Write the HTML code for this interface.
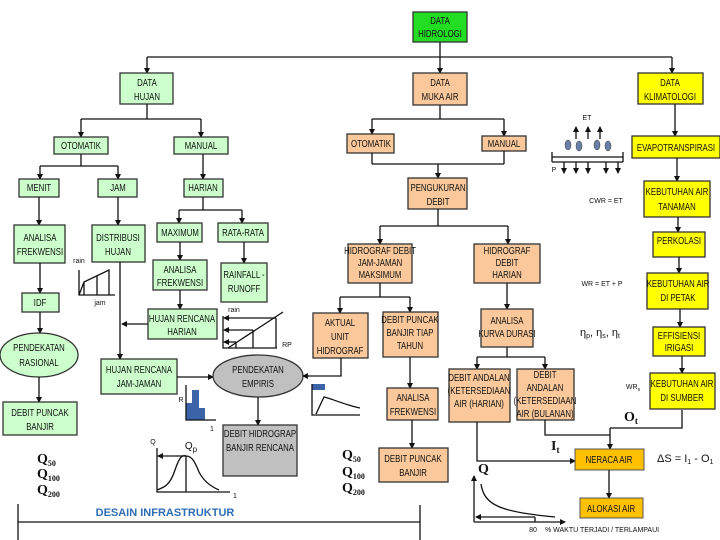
<!DOCTYPE html>
<html><head><meta charset="utf-8"><style>
html,body{margin:0;padding:0;background:#fff;}
svg{display:block;}
text{font-family:"Liberation Sans Narrow","Liberation Sans",sans-serif;font-size:10px;fill:#111;text-anchor:middle;transform-box:fill-box;transform-origin:center;transform:scaleX(0.78);}
.s{font-size:7px;font-family:"Liberation Sans",sans-serif;transform:none;}
.q{font-family:"Liberation Serif",serif;font-size:14px;font-weight:bold;text-anchor:start;transform:none;}
.nx{transform:none;}
.ln{stroke:#111;stroke-width:1.3;fill:none;}
.g{fill:#ccffcc;stroke:#333;stroke-width:1.3;}
.o{fill:#fac89a;stroke:#333;stroke-width:1.3;}
.y{fill:#ffff00;stroke:#333;stroke-width:1.3;}
.gr{fill:#c0c0c0;stroke:#333;stroke-width:1.3;}
.n{fill:#ffc000;stroke:#555;stroke-width:1;}
</style></head><body>
<svg width="720" height="540" viewBox="0 0 720 540" xmlns="http://www.w3.org/2000/svg">
<defs><marker id="a" markerWidth="6" markerHeight="6" refX="5" refY="3" orient="auto" markerUnits="userSpaceOnUse"><path d="M0,0 L6,3 L0,6z" fill="#111"/></marker></defs>

<!-- top -->
<rect x="413" y="12" width="54" height="30" fill="#22dd22" stroke="#333" stroke-width="1.3"/>
<text x="440" y="24">DATA</text><text x="440" y="37">HIDROLOGI</text>
<path class="ln" d="M440,42 V57 M147,57 H672"/>
<path class="ln" marker-end="url(#a)" d="M147,57 V73"/>
<path class="ln" marker-end="url(#a)" d="M440,57 V73"/>
<path class="ln" marker-end="url(#a)" d="M672,57 V73"/>

<rect class="g" x="120" y="73" width="53" height="31"/><text x="147" y="86">DATA</text><text x="147" y="100">HUJAN</text>
<rect class="o" x="413" y="73" width="54" height="32"/><text x="440" y="86">DATA</text><text x="440" y="100">MUKA AIR</text>
<rect class="y" x="638" y="73" width="65" height="31"/><text x="670" y="86">DATA</text><text x="670" y="100">KLIMATOLOGI</text>

<!-- hujan branch -->
<path class="ln" d="M147,104 V119 M81,119 H201"/>
<path class="ln" marker-end="url(#a)" d="M81,119 V137"/>
<path class="ln" marker-end="url(#a)" d="M201,119 V137"/>
<rect class="g" x="54" y="137" width="54" height="17"/><text x="81" y="149">OTOMATIK</text>
<rect class="g" x="174" y="137" width="54" height="17"/><text x="201" y="149">MANUAL</text>
<path class="ln" d="M81,154 V166 M40,166 H118"/>
<path class="ln" marker-end="url(#a)" d="M40,166 V179"/>
<path class="ln" marker-end="url(#a)" d="M118,166 V179"/>
<path class="ln" marker-end="url(#a)" d="M203,154 V179"/>
<rect class="g" x="19" y="179" width="40" height="18"/><text x="39" y="191">MENIT</text>
<rect class="g" x="98" y="179" width="39" height="18"/><text x="118" y="191">JAM</text>
<rect class="g" x="184" y="179" width="39" height="18"/><text x="203" y="191">HARIAN</text>
<path class="ln" d="M203,197 V210 M179,210 H242"/>
<path class="ln" marker-end="url(#a)" d="M179,210 V223"/>
<path class="ln" marker-end="url(#a)" d="M242,210 V223"/>
<rect class="g" x="157" y="223" width="45" height="19"/><text x="180" y="236">MAXIMUM</text>
<rect class="g" x="218" y="223" width="50" height="19"/><text x="243" y="236">RATA-RATA</text>
<path class="ln" marker-end="url(#a)" d="M39,197 V225"/>
<path class="ln" marker-end="url(#a)" d="M118,197 V225"/>
<rect class="g" x="14" y="225" width="51" height="38"/><text x="40" y="241">ANALISA</text><text x="40" y="255">FREKWENSI</text>
<rect class="g" x="92" y="225" width="53" height="37"/><text x="118" y="241">DISTRIBUSI</text><text x="118" y="255">HUJAN</text>
<path class="ln" marker-end="url(#a)" d="M180,242 V260"/>
<path class="ln" marker-end="url(#a)" d="M244,242 V263"/>
<rect class="g" x="153" y="260" width="54" height="30"/><text x="180" y="273">ANALISA</text><text x="180" y="286">FREKWENSI</text>
<rect class="g" x="221" y="263" width="46" height="39"/><text x="244" y="278">RAINFALL -</text><text x="244" y="292">RUNOFF</text>
<path class="ln" marker-end="url(#a)" d="M40,263 V293"/>
<rect class="g" x="22" y="293" width="37" height="19"/><text x="40" y="306">IDF</text>
<path class="ln" marker-end="url(#a)" d="M180,290 V309"/>
<rect class="g" x="148" y="309" width="69" height="30"/><text x="182" y="322">HUJAN RENCANA</text><text x="182" y="335">HARIAN</text>
<!-- rain/jam mini chart -->
<text class="s" x="79" y="263">rain</text>
<path class="ln" stroke-width="1" d="M79,270 V295 H115 M79,295 L84,282 L109,270 V295 M84,282 V295 M97,276 V295"/>
<text class="s" x="100" y="305">jam</text>
<!-- vertical from distribusi -->
<path class="ln" marker-end="url(#a)" d="M120,262 V359"/>
<path class="ln" stroke-width="2.2" marker-end="url(#a)" d="M148,324 H122"/>
<!-- rain/RP chart -->
<text class="s" x="234" y="312">rain</text>
<path class="ln" stroke-width="1" d="M223,316 V348 H277 M228,348 L283,312 M253,330 V348 M276,318 V348 M236,342 V348"/>
<path class="ln" stroke-width="2.2" marker-end="url(#a)" d="M276,318 H224"/>
<path class="ln" stroke-width="2.2" marker-end="url(#a)" d="M253,330 H224"/>
<path class="ln" stroke-width="2.2" marker-end="url(#a)" d="M236,342 H224"/>
<text class="s" x="287" y="347">RP</text>

<path class="ln" marker-end="url(#a)" d="M40,312 V333"/>
<ellipse cx="39" cy="355" rx="39" ry="22" fill="#ccffcc" stroke="#333" stroke-width="1.3"/>
<text x="39" y="351">PENDEKATAN</text><text x="39" y="366">RASIONAL</text>
<path class="ln" marker-end="url(#a)" d="M39,377 V402"/>
<rect class="g" x="3" y="402" width="74" height="33"/><text x="40" y="416">DEBIT PUNCAK</text><text x="40" y="430">BANJIR</text>
<text class="q" x="37" y="463">Q<tspan font-size="8" dy="3">50</tspan></text>
<text class="q" x="37" y="478">Q<tspan font-size="8" dy="3">100</tspan></text>
<text class="q" x="37" y="494">Q<tspan font-size="8" dy="3">200</tspan></text>

<rect class="g" x="101" y="359" width="76" height="35"/><text x="139" y="373">HUJAN RENCANA</text><text x="139" y="387">JAM-JAMAN</text>
<path class="ln" marker-end="url(#a)" d="M177,377 H213"/>
<ellipse cx="258" cy="376" rx="45" ry="21" fill="#c0c0c0" stroke="#333" stroke-width="1.3"/>
<text x="258" y="373">PENDEKATAN</text><text x="258" y="387">EMPIRIS</text>
<!-- histogram -->
<rect x="186" y="403" width="6" height="17" fill="#3a63a8"/><rect x="192" y="390" width="7" height="30" fill="#3a63a8"/><rect x="199" y="408" width="6" height="12" fill="#3a63a8"/>
<path class="ln" stroke-width="1" d="M186,385 V420 H216"/>
<text class="s" x="181" y="402">R</text><text class="s" x="212" y="431">1</text>
<path class="ln" marker-end="url(#a)" d="M258,397 V425"/>
<rect class="gr" x="223" y="425" width="74" height="51"/><text x="260" y="437">DEBIT HIDROGRAP</text><text x="260" y="451">BANJIR RENCANA</text>
<!-- Qp chart -->
<text class="s" x="153" y="444">Q</text>
<text class="nx" x="191" y="449" font-size="12">Q<tspan font-size="8" dy="3">p</tspan></text>
<path class="ln" stroke-width="1" d="M157,448 V492 H230 M157,490 C165,487 170,485 175,470 C180,455 183,455 186,456 C192,456 195,462 199,472 C204,482 212,487 219,490 M186,456 V492"/>
<path class="ln" stroke-width="2" marker-end="url(#a)" d="M186,456 H158"/>
<text class="s" x="235" y="498">1</text>

<text class="nx" x="165" y="516" style="font-family:'Liberation Sans',sans-serif;font-size:11px;font-weight:bold;fill:#2f6db5">DESAIN INFRASTRUKTUR</text>
<path class="ln" stroke-width="1" d="M18,504 V540 M18,522 H420 M420,505 V540"/>

<!-- muka air branch -->
<path class="ln" d="M440,105 V119 M372,119 H504"/>
<path class="ln" marker-end="url(#a)" d="M372,119 V134"/>
<path class="ln" marker-end="url(#a)" d="M504,119 V136"/>
<rect class="o" x="347" y="134" width="47" height="19"/><text x="371" y="147">OTOMATIK</text>
<rect class="o" x="482" y="136" width="44" height="15"/><text x="504" y="147">MANUAL</text>
<path class="ln" d="M372,153 V164 M504,151 V164 M372,164 H504"/>
<path class="ln" marker-end="url(#a)" d="M438,164 V178"/>
<rect class="o" x="408" y="178" width="59" height="31"/><text x="438" y="191">PENGUKURAN</text><text x="438" y="205">DEBIT</text>
<path class="ln" d="M438,209 V226 M380,226 H508"/>
<path class="ln" marker-end="url(#a)" d="M380,226 V244"/>
<path class="ln" marker-end="url(#a)" d="M508,226 V244"/>
<rect class="o" x="348" y="244" width="64" height="39"/><text x="380" y="254" font-size="8">HIDROGRAF DEBIT</text><text x="380" y="266" font-size="8">JAM-JAMAN</text><text x="380" y="278" font-size="8">MAKSIMUM</text>
<rect class="o" x="474" y="244" width="66" height="39"/><text x="507" y="254" font-size="8">HIDROGRAF</text><text x="507" y="266" font-size="8">DEBIT</text><text x="507" y="278" font-size="8">HARIAN</text>
<path class="ln" d="M380,283 V297 M340,297 H410"/>
<path class="ln" marker-end="url(#a)" d="M340,297 V313"/>
<path class="ln" marker-end="url(#a)" d="M410,297 V312"/>
<rect class="o" x="313" y="313" width="55" height="45"/><text x="340" y="326" font-size="11">AKTUAL</text><text x="340" y="340" font-size="11">UNIT</text><text x="340" y="354" font-size="11">HIDROGRAF</text>
<rect class="o" x="383" y="312" width="55" height="45"/><text x="410" y="323" font-size="8">DEBIT PUNCAK</text><text x="410" y="336" font-size="8">BANJIR TIAP</text><text x="410" y="349" font-size="8">TAHUN</text>
<path class="ln" stroke-width="2" marker-end="url(#a)" d="M341,358 V376 H303"/>
<!-- small hydrograph -->
<rect x="312" y="384" width="13" height="6" fill="#3a63a8"/>
<path class="ln" stroke-width="1" d="M312,384 V415 H360 M316,414 L324,397 C330,398 345,405 360,408"/>
<path class="ln" marker-end="url(#a)" d="M410,357 V388"/>
<rect class="o" x="387" y="388" width="51" height="32"/><text x="413" y="401">ANALISA</text><text x="413" y="415">FREKWENSI</text>
<path class="ln" marker-end="url(#a)" d="M412,420 V448"/>
<rect class="o" x="379" y="448" width="69" height="34"/><text x="413" y="462">DEBIT PUNCAK</text><text x="413" y="476">BANJIR</text>
<text class="q" x="342" y="459">Q<tspan font-size="8" dy="3">50</tspan></text>
<text class="q" x="342" y="476">Q<tspan font-size="8" dy="3">100</tspan></text>
<text class="q" x="342" y="492">Q<tspan font-size="8" dy="3">200</tspan></text>

<path class="ln" marker-end="url(#a)" d="M507,283 V309"/>
<rect class="o" x="481" y="309" width="52" height="38"/><text x="507" y="324" font-size="8">ANALISA</text><text x="507" y="337" font-size="8">KURVA DURASI</text>
<path class="ln" d="M507,347 V357 M477,357 H545"/>
<path class="ln" marker-end="url(#a)" d="M477,357 V369"/>
<path class="ln" marker-end="url(#a)" d="M545,357 V369"/>
<rect class="o" x="449" y="369" width="61" height="53"/><text x="479" y="381" font-size="8">DEBIT ANDALAN</text><text x="479" y="394" font-size="8">(KETERSEDIAAN</text><text x="479" y="407" font-size="8">AIR (HARIAN)</text>
<rect class="o" x="517" y="369" width="57" height="51"/><text x="545" y="378" font-size="8">DEBIT</text><text x="545" y="391" font-size="8">ANDALAN</text><text x="545" y="404" font-size="8">(KETERSEDIAAN</text><text x="545" y="417" font-size="8">AIR (BULANAN)</text>
<path class="ln" marker-end="url(#a)" d="M477,422 V461 H575"/>
<path class="ln" d="M545,420 V435 H610 M682,410 V428 H610"/>
<path class="ln" marker-end="url(#a)" d="M610,428 V449"/>
<rect class="n" x="575" y="449" width="69" height="21"/><text x="609" y="463">NERACA AIR</text>
<path class="ln" marker-end="url(#a)" d="M609,470 V498"/>
<rect class="n" x="580" y="498" width="63" height="20"/><text x="611" y="512">ALOKASI AIR</text>
<text class="q" x="551" y="450">I<tspan font-size="9" dy="3">t</tspan></text>
<text class="q" x="624" y="421">O<tspan font-size="9" dy="3">t</tspan></text>
<text class="nx" x="657" y="462" style="text-anchor:start;font-size:11px;font-family:'Liberation Sans',sans-serif">ΔS = I<tspan font-size="7" dy="2">1</tspan><tspan dy="-2"> - O</tspan><tspan font-size="7" dy="2">1</tspan></text>
<text class="q" x="478" y="473">Q</text>
<!-- duration curve -->
<path class="ln" stroke-width="2" marker-end="url(#a)" d="M474,522 V476"/>
<path class="ln" stroke-width="2" marker-end="url(#a)" d="M474,522 H565"/>
<path class="ln" stroke-width="0.8" d="M481,484 C484,505 500,512 555,517"/>
<path class="ln" stroke-width="2" marker-end="url(#a)" d="M535,517 H476"/>
<path class="ln" stroke-width="0.8" d="M535,517 V522"/>
<text class="s" x="533" y="532">80</text>
<text class="s" x="545" y="532" style="text-anchor:start">% WAKTU TERJADI / TERLAMPAUI</text>

<!-- klimatologi -->
<path class="ln" marker-end="url(#a)" d="M675,104 V136"/>
<rect class="y" x="632" y="136" width="88" height="22"/><text x="676" y="151">EVAPOTRANSPIRASI</text>
<path class="ln" marker-end="url(#a)" d="M677,158 V181"/>
<rect class="y" x="644" y="181" width="66" height="36"/><text x="677" y="195">KEBUTUHAN AIR</text><text x="677" y="210">TANAMAN</text>
<path class="ln" marker-end="url(#a)" d="M678,217 V232"/>
<rect class="y" x="653" y="232" width="52" height="25"/><text x="679" y="244">PERKOLASI</text>
<path class="ln" marker-end="url(#a)" d="M679,257 V273"/>
<rect class="y" x="647" y="273" width="61" height="36"/><text x="678" y="287">KEBUTUHAN AIR</text><text x="678" y="301">DI PETAK</text>
<path class="ln" marker-end="url(#a)" d="M680,309 V327"/>
<rect class="y" x="653" y="327" width="52" height="29"/><text x="679" y="339" font-size="8">EFFISIENSI</text><text x="679" y="351" font-size="8">IRIGASI</text>
<path class="ln" marker-end="url(#a)" d="M682,356 V373"/>
<rect class="y" x="650" y="373" width="65" height="36"/><text x="682" y="387">KEBUTUHAN AIR</text><text x="682" y="401">DI SUMBER</text>

<!-- ET diagram -->
<text class="s" x="587" y="120">ET</text>
<path class="ln" stroke-width="1.6" marker-end="url(#a)" d="M576,139 V127"/>
<path class="ln" stroke-width="1.6" marker-end="url(#a)" d="M588,139 V127"/>
<path class="ln" stroke-width="1.6" marker-end="url(#a)" d="M600,139 V127"/>
<g fill="#6a7fa6" stroke="#333" stroke-width="0.5">
<ellipse cx="568" cy="145" rx="3" ry="5"/><ellipse cx="579" cy="146" rx="3" ry="5"/><ellipse cx="597" cy="145" rx="3" ry="5"/><ellipse cx="608" cy="146" rx="3" ry="5"/></g>
<path class="ln" stroke-width="1" d="M552,157 H623 M552,162 H623 M552,152 V162 M623,152 V162"/>
<g class="ln" stroke-width="1.6">
<path marker-end="url(#a)" d="M564,162 V173"/><path marker-end="url(#a)" d="M576,162 V173"/><path marker-end="url(#a)" d="M588,162 V173"/><path marker-end="url(#a)" d="M606,162 V173"/><path marker-end="url(#a)" d="M618,162 V173"/></g>
<text class="s" x="554" y="172">P</text>
<text class="s" x="606" y="203">CWR = ET</text>
<text class="s" x="602" y="286">WR = ET + P</text>
<text class="nx" x="600" y="336" style="font-family:'Liberation Sans',sans-serif;font-size:11px">η<tspan font-size="7" dy="2">p</tspan><tspan dy="-2">, η</tspan><tspan font-size="7" dy="2">s</tspan><tspan dy="-2">, η</tspan><tspan font-size="7" dy="2">t</tspan></text>
<text class="s" x="633" y="389">WR<tspan font-size="5" dy="2">s</tspan></text>
</svg>
</body></html>
